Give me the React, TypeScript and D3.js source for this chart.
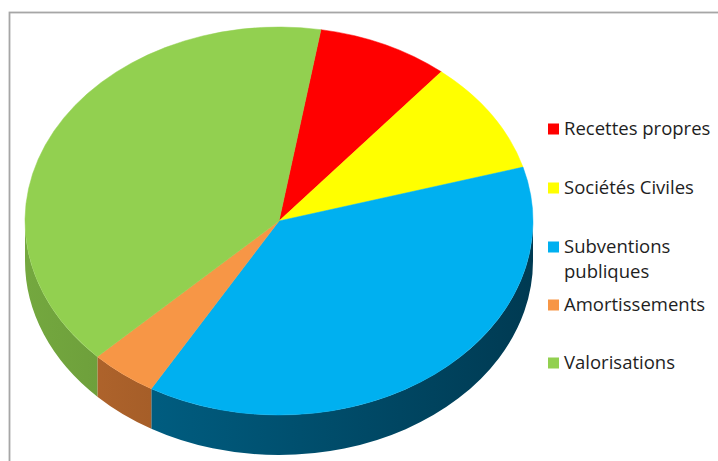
import React from "react";
import * as d3 from "d3";

const categories = ["Recettes propres", "Sociétés Civiles", "Subventions publiques", "Amortissements", "Valorisations"];
const legendLines = [["Recettes propres"], ["Sociétés Civiles"], ["Subventions", "publiques"], ["Amortissements"], ["Valorisations"]];
const values = [8.4, 9.5, 37.9, 4.3, 40.0];
const topColors = ["#FF0000", "#FFFF00", "#00B0F0", "#F79646", "#92D050"];
const sideColorsLeft = ["#b00000", "#b0b000", "#00688f", "#b8692f", "#74a83f"];
const sideColorsRight = ["#700000", "#707000", "#003a52", "#6e3c14", "#4a6e26"];

const W = 718;
const H = 461;
const cx = 279;
const cy = 221;
const rx = 254;
const ry = 194;
const depth = 40;
const startDeg = 9.5;

export default function App() {
  const pie = d3
    .pie<number>()
    .sort(null)
    .value((d) => d)
    .startAngle((startDeg * Math.PI) / 180)
    .endAngle((startDeg * Math.PI) / 180 + 2 * Math.PI);
  const arcs = pie(values);

  const px = (a: number) => cx + rx * Math.sin(a);
  const py = (a: number, dy = 0) => cy - ry * Math.cos(a) + dy;

  const topPath = (a0: number, a1: number) => {
    const large = a1 - a0 > Math.PI ? 1 : 0;
    return `M${cx},${cy}L${px(a0)},${py(a0)}A${rx},${ry} 0 ${large} 1 ${px(a1)},${py(a1)}Z`;
  };

  const sidePaths: { d: string; i: number }[] = [];
  arcs.forEach((arc, i) => {
    for (const shift of [0, 2 * Math.PI]) {
      const lo = Math.max(arc.startAngle, Math.PI / 2 + shift);
      const hi = Math.min(arc.endAngle, (3 * Math.PI) / 2 + shift);
      if (hi > lo) {
        const d = `M${px(lo)},${py(lo)}A${rx},${ry} 0 0 1 ${px(hi)},${py(hi)}L${px(hi)},${py(hi, depth)}A${rx},${ry} 0 0 0 ${px(lo)},${py(lo, depth)}Z`;
        sidePaths.push({ d, i });
      }
    }
  });

  const legendY = [129, 188, 247, 305, 363];

  return (
    <svg
      width={W}
      height={H}
      style={{ position: "absolute", left: 0, top: 0, display: "block", background: "#fff" }}
    >
      <defs>
        {categories.map((c, i) => (
          <linearGradient
            key={c}
            id={`side${i}`}
            gradientUnits="userSpaceOnUse"
            x1={cx - rx}
            x2={cx + rx}
            y1={0}
            y2={0}
          >
            <stop offset="0" stopColor={sideColorsLeft[i]} />
            <stop offset="1" stopColor={sideColorsRight[i]} />
          </linearGradient>
        ))}
      </defs>
      <rect x={9.5} y={12.5} width={W + 10} height={H + 10} fill="none" stroke="#a6a6a6" strokeWidth={1.8} />
      <g>
        {sidePaths.map((s, k) => (
          <path key={k} d={s.d} fill={`url(#side${s.i})`} />
        ))}
      </g>
      <g>
        {arcs.map((arc, i) => (
          <path key={i} d={topPath(arc.startAngle, arc.endAngle)} fill={topColors[i]} stroke={topColors[i]} strokeWidth={0.5} />
        ))}
      </g>
      <g fontFamily="'Open Sans', sans-serif" fontSize={18.5} fill="#1e1e1e">
        {categories.map((c, i) => (
          <g key={c}>
            <rect x={548} y={legendY[i] - 5.5} width={11} height={11} fill={topColors[i]} />
            {legendLines[i].map((line, j) => (
              <text key={j} x={564} y={legendY[i] + j * 25} dy="0.35em">
                {line}
              </text>
            ))}
          </g>
        ))}
      </g>
    </svg>
  );
}
